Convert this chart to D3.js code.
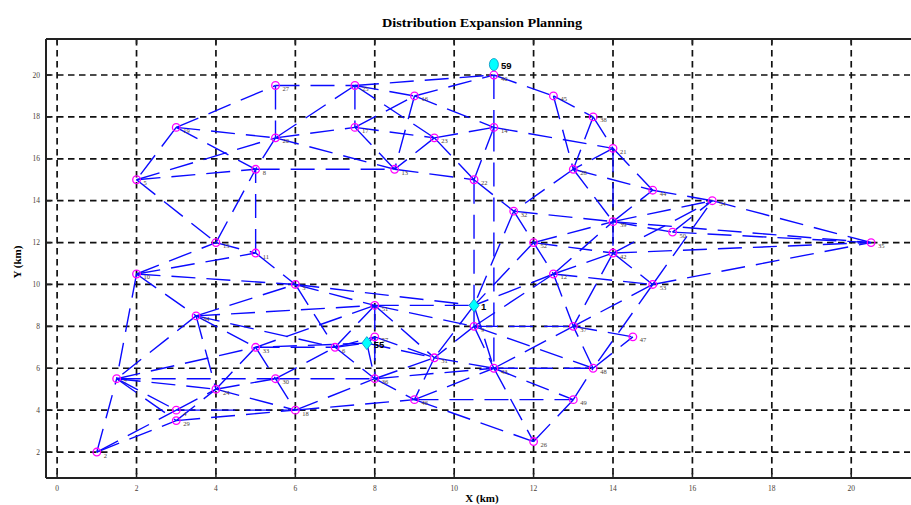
<!DOCTYPE html>
<html>
<head>
<meta charset="utf-8">
<script src="https://cdn.jsdelivr.net/npm/d3@7"></script>
<style>
  body { margin: 0; background: #fff; }
  svg { display: block; }
</style>
</head>
<body>
<svg></svg>
<script>
// load points: label, X (km), Y (km)
var nodeLabels = ["2","7","4","29","24","33","30","18","6","36","46","31","57","9","43","37","48","47","49","26",
                  "12","52","32","22","28","44","39","42","53","50","54","35","40","14","45","38","21","27","25","16",
                  "17","20","23","13","8","19","5","15","11","10","34","3","51"];
var nodeX = [1,1.5,3,3,4,5,5.5,6,7,8,9,9.5,8,10.5,11,13,13.5,14.5,13,12,
             12.5,12,11.5,10.5,13,15,14,14,15,15.5,16.5,20.5,11,11,12.5,13.5,14,5.5,7.5,9,
             7.5,5.5,9.5,8.5,5,3,2,4,5,2,3.5,6,8];
var nodeY = [2,5.5,4,3.5,5,7,5.5,4,7,5.5,4.5,6.5,7.5,8,6,8,6,7.5,4.5,2.5,
             10.5,12,13.5,15,15.5,14.5,13,11.5,10,12.5,14,12,20,17.5,19,18,16.5,19.5,19.5,19,
             17.5,17,17,15.5,15.5,17.5,15,12,11.5,10.5,8.5,10,9];

// substations
var subLabels = ["1","55","59"];
var subX = [10.5, 7.8, 11];
var subY = [9, 7.2, 20.5];
var subShapes = ["diamond","diamond","circle"];

// candidate feeder routes (pairs of labels)
var edges = [
  "19-27","19-20","19-8","19-5","5-20","5-8","5-15",
  "10-15","10-11","10-3","10-34","10-7","15-8","15-11","11-8","11-3","3-6",
  "27-25","27-20","25-40","25-16","25-17","25-20","25-23",
  "17-16","17-23","17-13","20-17","20-13","20-8","8-13",
  "16-40","16-14","16-13","23-13","23-14","23-22","13-22",
  "40-14","40-45","45-38","45-28","38-21","38-28","21-44","21-39","21-28",
  "14-21","14-22","14-43","22-1","22-32",
  "28-32","28-39","28-44","32-52","32-39","32-1",
  "52-12","52-39","52-42","52-1","12-39","12-42","12-9","12-37","12-53","12-1",
  "39-42","39-44","39-54","39-50","39-35","42-53","42-37","42-35","42-54",
  "53-35","53-37","53-48","53-54","44-54","54-35","50-35","50-54",
  "34-3","34-51","34-33","34-7","34-6","34-24",
  "3-51","3-1","51-1","51-6","51-57","51-33","51-31","51-9",
  "1-9","1-31","1-43","9-37","9-43","9-31","9-48",
  "2-7","2-4","2-29","7-4","7-29","7-24","7-33","7-30",
  "4-24","4-18","29-18","29-24","24-33","24-30","24-18",
  "33-30","33-6","30-6","30-36","30-18","18-36","18-46",
  "6-57","6-55","6-36","55-57","55-33","55-31","55-36",
  "57-36","57-31","36-46","36-31","36-43","31-46","31-43",
  "46-43","46-26","46-49","43-26","43-48","43-37","43-49",
  "26-49","49-48","48-37","48-47","37-47"
];

var xTicks = d3.range(0, 21, 2);
var yTicks = d3.range(2, 21, 2);

var width = 911;
var height = 505;
var plotLeft = 46, plotRight = 910, plotTop = 39, plotBottom = 478;

var x = d3.scaleLinear().domain([-0.28, 21.48]).range([plotLeft, plotRight]);
var y = d3.scaleLinear().domain([0.76, 21.72]).range([plotBottom, plotTop]);

var svg = d3.select('svg')
    .attr('width', width)
    .attr('height', height);

// position lookup for every labelled point
var pos = {};
nodeLabels.forEach((l, i) => pos[l] = [nodeX[i], nodeY[i]]);
subLabels.forEach((l, i) => pos[l] = [subX[i], subY[i]]);

// grid
var grid = svg.append('g')
    .attr('stroke', '#111')
    .attr('stroke-width', 1.7)
    .attr('stroke-dasharray', '6.5,4.5');

grid.selectAll('.vgrid')
  .data(xTicks)
  .enter()
    .append('line')
    .attr('x1', d => x(d)).attr('x2', d => x(d))
    .attr('y1', plotTop).attr('y2', plotBottom);

grid.selectAll('.hgrid')
  .data(yTicks)
  .enter()
    .append('line')
    .attr('x1', plotLeft).attr('x2', plotRight)
    .attr('y1', d => y(d)).attr('y2', d => y(d));

// feeder routes
svg.append('g')
  .selectAll('line')
  .data(edges.map(e => e.split('-')))
  .enter()
    .append('line')
    .attr('x1', d => x(pos[d[0]][0]))
    .attr('y1', d => y(pos[d[0]][1]))
    .attr('x2', d => x(pos[d[1]][0]))
    .attr('y2', d => y(pos[d[1]][1]))
    .attr('stroke', '#0a0aff')
    .attr('stroke-width', 1.4)
    .attr('stroke-dasharray', '24,11');

// load points
svg.append('g')
  .selectAll('circle')
  .data(nodeLabels)
  .enter()
    .append('circle')
    .attr('cx', (d, i) => x(nodeX[i]))
    .attr('cy', (d, i) => y(nodeY[i]))
    .attr('r', 3.8)
    .attr('fill', 'none')
    .attr('stroke', '#ff00ff')
    .attr('stroke-width', 1.3);

svg.append('g')
  .selectAll('text')
  .data(nodeLabels)
  .enter()
    .append('text')
    .attr('x', (d, i) => x(nodeX[i]) + 7)
    .attr('y', (d, i) => y(nodeY[i]) + 5.5)
    .attr('font-family', 'Liberation Serif')
    .attr('font-size', 6.5)
    .attr('fill', '#4a4036')
    .text(d => d);

// substations
var subs = svg.append('g')
  .selectAll('g')
  .data(subLabels)
  .enter()
    .append('g')
    .attr('transform', (d, i) => `translate(${x(subX[i])},${y(subY[i])})`);

subs.append('path')
    .attr('d', (d, i) => subShapes[i] === 'diamond'
      ? 'M0,-6.5L5,0L0,6.5L-5,0Z'
      : 'M-4.5,0A4.5,6 0 1,0 4.5,0A4.5,6 0 1,0 -4.5,0Z')
    .attr('fill', '#00ffff')
    .attr('stroke', '#0090c0')
    .attr('stroke-width', 0.8);

subs.append('text')
    .attr('x', 7)
    .attr('y', (d, i) => subShapes[i] === 'circle' ? 4 : 5)
    .attr('font-family', 'Liberation Sans')
    .attr('font-weight', 'bold')
    .attr('font-size', 9.5)
    .attr('fill', '#000')
    .text(d => d);

// axes box and ticks
var axes = svg.append('g')
    .attr('stroke', '#222')
    .attr('stroke-width', 2);

axes.append('line').attr('x1', plotLeft).attr('x2', plotRight + 2).attr('y1', plotTop).attr('y2', plotTop);
axes.append('line').attr('x1', plotLeft).attr('x2', plotRight + 2).attr('y1', plotBottom).attr('y2', plotBottom);
axes.append('line').attr('x1', plotLeft).attr('x2', plotLeft).attr('y1', plotTop).attr('y2', plotBottom);

axes.selectAll('.xt')
  .data(xTicks)
  .enter()
    .append('path')
    .attr('d', d => `M${x(d)},${plotBottom}v-5M${x(d)},${plotTop}v5`)
    .attr('stroke-width', 1.5);

axes.selectAll('.yt')
  .data(yTicks)
  .enter()
    .append('path')
    .attr('d', d => `M${plotLeft},${y(d)}h5`)
    .attr('stroke-width', 1.5);

svg.append('g')
  .selectAll('text')
  .data(xTicks)
  .enter()
    .append('text')
    .attr('x', d => x(d))
    .attr('y', 491)
    .attr('text-anchor', 'middle')
    .attr('font-family', 'Liberation Serif')
    .attr('font-size', 7.5)
    .attr('fill', '#4a4036')
    .text(d => d);

svg.append('g')
  .selectAll('text')
  .data(yTicks)
  .enter()
    .append('text')
    .attr('x', 40)
    .attr('y', d => y(d) + 2.5)
    .attr('text-anchor', 'end')
    .attr('font-family', 'Liberation Serif')
    .attr('font-size', 7.5)
    .attr('fill', '#4a4036')
    .text(d => d);

// title and axis labels
svg.append('text')
    .attr('x', 482)
    .attr('y', 27)
    .attr('text-anchor', 'middle')
    .attr('font-family', 'Liberation Serif')
    .attr('font-weight', 'bold')
    .attr('font-size', 12)
    .attr('textLength', 200)
    .attr('lengthAdjust', 'spacingAndGlyphs')
    .text('Distribution Expansion Planning');

svg.append('text')
    .attr('x', 482)
    .attr('y', 502)
    .attr('text-anchor', 'middle')
    .attr('font-family', 'Liberation Serif')
    .attr('font-weight', 'bold')
    .attr('font-size', 11)
    .text('X (km)');

svg.append('text')
    .attr('transform', 'translate(21,262) rotate(-90)')
    .attr('text-anchor', 'middle')
    .attr('font-family', 'Liberation Serif')
    .attr('font-weight', 'bold')
    .attr('font-size', 11)
    .text('Y (km)');
</script>
</body>
</html>
